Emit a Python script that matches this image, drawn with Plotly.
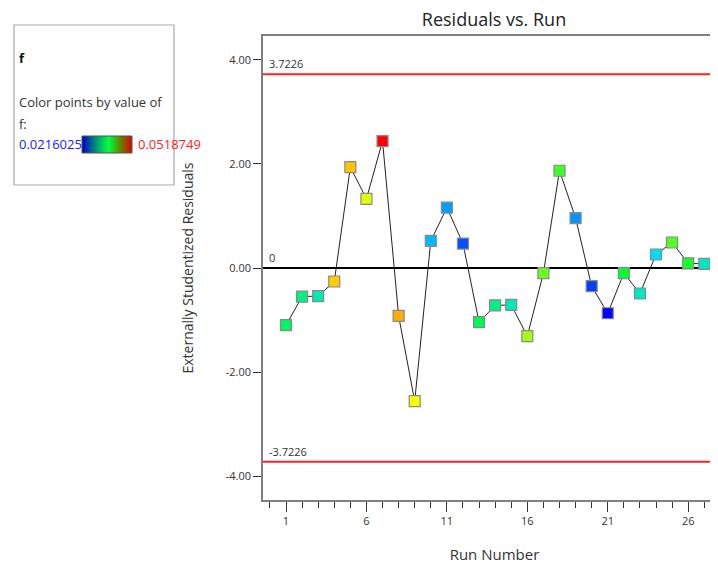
import numpy as np
import plotly.graph_objects as go

# page body has an 8px margin; the figure is laid out in reference-pixel coords shifted by OFF
OFF = 8
W, H = 718, 564 - OFF

run = list(range(1, 28))
residuals = [-1.10, -0.55, -0.54, -0.26, 1.94, 1.33, 2.44, -0.92, -2.56, 0.52,
             1.16, 0.47, -1.04, -0.72, -0.71, -1.31, -0.10, 1.87, 0.96, -0.35,
             -0.87, -0.10, -0.49, 0.26, 0.49, 0.09, 0.08]
f_vals = [0.03500, 0.03360, 0.03220, 0.04582, 0.04610, 0.04340, 0.0518749, 0.04673, 0.04400, 0.02796,
          0.02705, 0.02433, 0.03553, 0.03371, 0.03190, 0.04150, 0.03980, 0.03855, 0.02675, 0.02372,
          0.0216025, 0.03674, 0.03129, 0.02947, 0.03916, 0.03734, 0.03159]
f_min, f_max = 0.0216025, 0.0518749
limit = 3.7226
y_ticks = [-4, -2, 0, 2, 4]
y_tick_text = ["-4.00", "-2.00", "0.00", "2.00", "4.00"]
x_ticks = [1, 6, 11, 16, 21, 26]

point_scale = [[0, "#0000ff"], [0.25, "#00ddff"], [0.5, "#00ff30"], [0.75, "#ffff00"], [1, "#ff0000"]]
bar_scale = [[0, "#0000c8"], [0.3, "#00a070"], [0.53, "#00ff40"], [0.75, "#5a9000"], [1, "#e00000"]]

# plot area in reference pixels
L, T, B = 263, 36, 500
def px(x):
    return (x - OFF) / W
def py(y):
    return (B - y) / (B - T)

fig = go.Figure()

fig.add_trace(go.Scatter(
    x=run, y=residuals, mode="lines+markers",
    line=dict(color="#222222", width=1),
    marker=dict(symbol="square", size=11, color=f_vals, colorscale=point_scale,
                cmin=f_min, cmax=f_max, line=dict(color="#8a8a8a", width=1.2)),
    showlegend=False, hoverinfo="x+y",
))

# legend colour bar
fig.add_trace(go.Heatmap(
    z=[list(np.linspace(f_min, f_max, 120))], colorscale=bar_scale,
    showscale=False, xaxis="x2", yaxis="y2", hoverinfo="skip",
))

fig.update_layout(
    width=W, height=H,
    margin=dict(l=0, r=0, t=T - OFF, b=H - (B - OFF)),
    paper_bgcolor="white", plot_bgcolor="white",
    font=dict(family="Open Sans, Noto Sans, sans-serif", color="#333333", size=11),
    title=dict(text="Residuals vs. Run", font=dict(size=18, color="#222222"),
               xref="container", x=(494 - OFF) / W, xanchor="center",
               yref="container", y=1 - (20 - OFF) / H, yanchor="middle"),
    xaxis=dict(domain=[px(L), 1], range=[-0.43, 28.35], showgrid=False, zeroline=False,
               showline=True, linecolor="#7f7f7f", linewidth=1.5, mirror=True,
               tickmode="array", tickvals=x_ticks, ticks="outside", ticklen=10,
               tickcolor="#333333", tickwidth=1.2,
               minor=dict(tickmode="linear", dtick=1, tick0=1, ticks="outside", ticklen=6,
                          tickcolor="#333333", tickwidth=1),
               tickfont=dict(size=11, color="#333333"),
               title=dict(text="Run Number", font=dict(size=15, color="#333333"), standoff=26)),
    yaxis=dict(range=[-4.46, 4.46], showgrid=False, zeroline=False,
               showline=True, linecolor="#7f7f7f", linewidth=1.5,
               tickmode="array", tickvals=y_ticks, ticktext=y_tick_text,
               ticks="outside", ticklen=8, tickcolor="#333333", tickwidth=1.2,
               tickfont=dict(size=11, color="#333333"),
               title=dict(text="Externally Studentized Residuals", font=dict(size=14, color="#333333"),
                          standoff=29)),
    xaxis2=dict(domain=[px(82), px(132)], visible=False, anchor="y2"),
    yaxis2=dict(domain=[py(153), py(136)], visible=False, anchor="x2"),
)

shapes = [
    dict(type="line", xref="x domain", yref="y", x0=0, x1=1, y0=limit, y1=limit,
         line=dict(color="#ff2020", width=2)),
    dict(type="line", xref="x domain", yref="y", x0=0, x1=1, y0=-limit, y1=-limit,
         line=dict(color="#ff2020", width=2)),
    dict(type="line", xref="x domain", yref="y", x0=0, x1=1, y0=0, y1=0,
         line=dict(color="#000000", width=2), layer="below"),
    dict(type="rect", xref="paper", yref="paper", x0=px(14), x1=px(174), y0=py(185), y1=py(25),
         line=dict(color="#aaaaaa", width=1.2), fillcolor="rgba(0,0,0,0)"),
    dict(type="rect", xref="paper", yref="paper", x0=px(82), x1=px(132), y0=py(153), y1=py(136),
         line=dict(color="#555555", width=1), fillcolor="rgba(0,0,0,0)"),
]
fig.update_layout(shapes=shapes)

ann = [
    dict(text=f"{limit:.4f}", xref="paper", yref="y", x=px(267), y=limit, xanchor="left",
         yanchor="bottom", yshift=1, font=dict(size=11, color="#333333")),
    dict(text=f"{-limit:.4f}", xref="paper", yref="y", x=px(267), y=-limit, xanchor="left",
         yanchor="bottom", yshift=1, font=dict(size=11, color="#333333")),
    dict(text="0", xref="paper", yref="y", x=px(267), y=0, xanchor="left",
         yanchor="bottom", yshift=1, font=dict(size=11, color="#333333")),
    dict(text="<b>f</b>", xref="paper", yref="paper", x=px(17), y=py(58), xanchor="left",
         yanchor="middle", font=dict(size=13, color="#111111")),
    dict(text="Color points by value of", xref="paper", yref="paper", x=px(17), y=py(102),
         xanchor="left", yanchor="middle", font=dict(size=13, color="#333333")),
    dict(text="f:", xref="paper", yref="paper", x=px(17), y=py(124),
         xanchor="left", yanchor="middle", font=dict(size=13, color="#333333")),
    dict(text=f"{f_min:g}", xref="paper", yref="paper", x=px(17), y=py(144),
         xanchor="left", yanchor="middle", font=dict(size=13, color="#2020ff")),
    dict(text=f"{f_max:g}", xref="paper", yref="paper", x=px(136), y=py(144),
         xanchor="left", yanchor="middle", font=dict(size=13, color="#ff2020")),
]
for a in ann:
    a["showarrow"] = False
fig.update_layout(annotations=ann)

fig.write_html("out.html")
